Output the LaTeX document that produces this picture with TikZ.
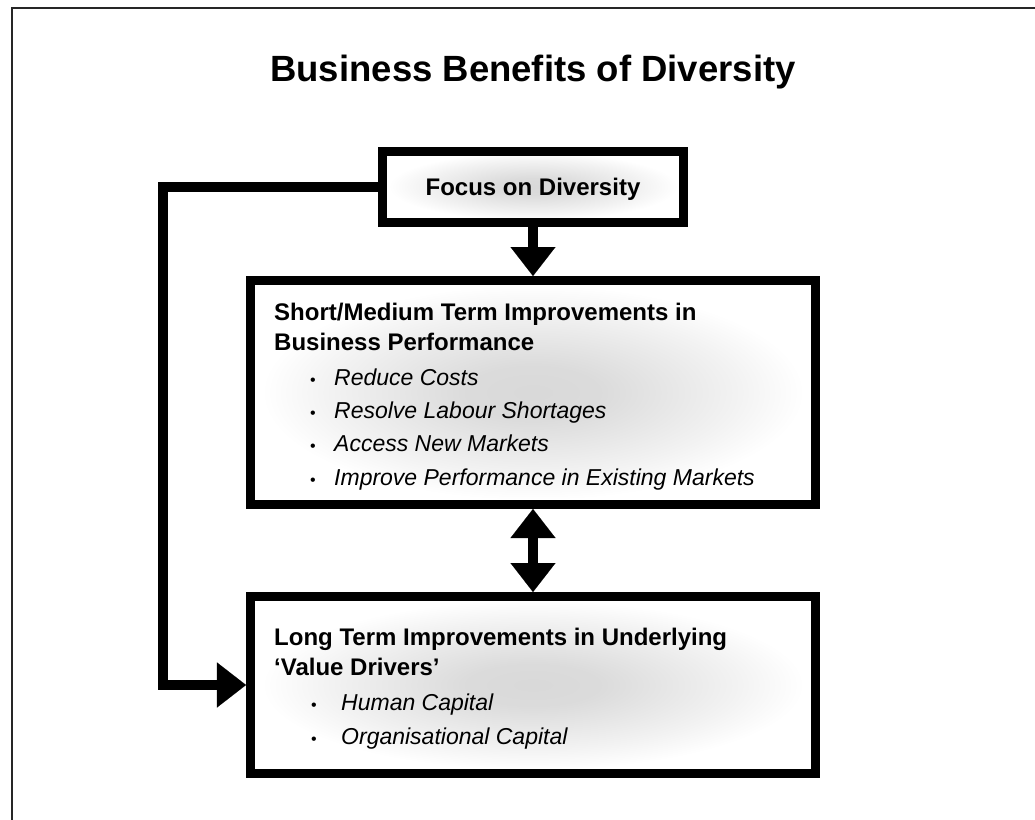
\documentclass[tikz,border=0pt]{standalone}
\usepackage{fontspec}
\setmainfont{Liberation Sans}
\usetikzlibrary{arrows.meta}
\pgfdeclareradialshading{boxshade}{\pgfpoint{0bp}{0bp}}{color(0bp)=(black!15); color(6bp)=(black!14); color(18bp)=(black!5); color(24bp)=(white); color(50bp)=(white)}
\begin{document}
\begin{tikzpicture}[x=1bp, y=-1bp,
  box/.style={draw=black, line width=9bp, shading=boxshade, inner sep=0pt, line join=miter},
  titletext/.style={inner sep=0pt, font=\fontsize{36.5bp}{40bp}\selectfont\bfseries},
  headtext/.style={inner sep=0pt, font=\fontsize{24bp}{28bp}\selectfont\bfseries},
  itemtext/.style={inner sep=0pt, anchor=base west, font=\fontsize{23bp}{27bp}\selectfont\itshape},
  bullettext/.style={inner sep=0pt, anchor=base, font=\fontsize{16bp}{20bp}\selectfont},
  conn/.style={draw=black, line width=10bp, line join=miter},
  head/.tip={Triangle[length=29bp, width=45bp, line width=0.1bp]}
]
\useasboundingbox (0,0) rectangle (1035,820);
\fill[white] (0,0) rectangle (1035,820);
% outer frame (top and left edges only)
\coordinate (frameTR) at (1035,8);
\coordinate (frameTL) at (12,8);
\coordinate (frameBL) at (12,820);
\draw[line width=2bp, black!85] (frameTR) -- (frameTL) -- (frameBL);

% title
\node[titletext, anchor=base] (title) at (533,82) {Business Benefits of Diversity};

% boxes
\node[box, minimum width=301bp, minimum height=71bp] (focus) at (533,186.5) {};
\node[box, minimum width=565bp, minimum height=224bp] (main) at (533,392.5) {};
\node[box, minimum width=565bp, minimum height=177bp] (lower) at (533,685) {};

% box texts
\node[headtext, anchor=base] (focustext) at (533,195) {Focus on Diversity};

\node[headtext, anchor=base west] (m1) at (274,320) {Short/Medium Term Improvements in};
\node[headtext, anchor=base west] (m2) at (274,350) {Business Performance};
\node[bullettext] (mb1) at (313,385) {•};
\node[bullettext] (mb2) at (313,418) {•};
\node[bullettext] (mb3) at (313,451) {•};
\node[bullettext] (mb4) at (313,485) {•};
\node[itemtext] (mi1) at (334,385) {Reduce Costs};
\node[itemtext] (mi2) at (334,418) {Resolve Labour Shortages};
\node[itemtext] (mi3) at (334,451) {Access New Markets};
\node[itemtext] (mi4) at (334,485) {Improve Performance in Existing Markets};

\node[headtext, anchor=base west] (l1) at (274,645) {Long Term Improvements in Underlying};
\node[headtext, anchor=base west] (l2) at (274,675) {‘Value Drivers’};
\node[bullettext] (lb1) at (314,710) {•};
\node[bullettext] (lb2) at (314,744) {•};
\node[itemtext] (li1) at (341,710) {Human Capital};
\node[itemtext] (li2) at (341,744) {Organisational Capital};

% connectors
\draw[conn, -head] (focus.south) -- (main.north);
\draw[conn, head-head] (main.south) -- (lower.north);
\coordinate (loopbend) at (163,186.5);
\draw[conn, -head] (focus.west) -- (loopbend) |- (lower.west);
\end{tikzpicture}
\end{document}
